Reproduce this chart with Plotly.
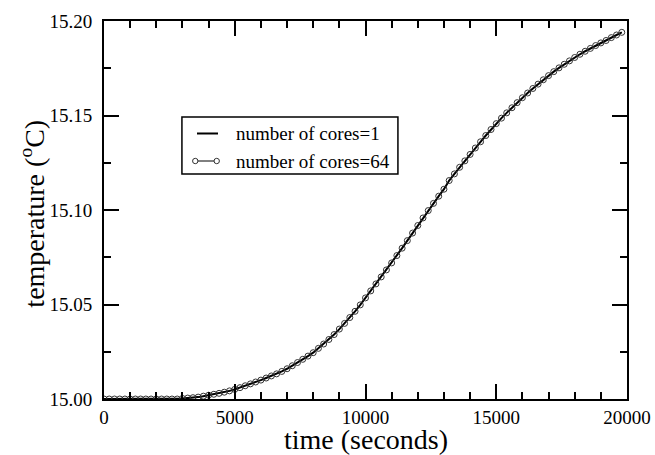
import plotly.graph_objects as go

# time in seconds (sampled every 200 s)
time_s = [200 * k for k in range(100)]

# temperature offsets above 15.00 °C, in thousandths of a degree
temp_offset_milli = [
    0, 0, 0, 0, 0, 0, 0, 0, 0, 0,
    0, 0, 0, 0, 0, 0.3, 0.5, 0.7, 1.0, 1.5,
    2.0, 2.5, 3.0, 3.6, 4.3, 5.1, 6.0, 7.0, 8.0, 9.0,
    10.0, 11.1, 12.2, 13.3, 14.6, 16.0, 17.6, 19.3, 21.0, 22.7,
    24.5, 26.8, 29.1, 31.5, 34.1, 37.0, 40.0, 43.1, 46.4, 49.8,
    53.5, 57.2, 60.9, 64.6, 68.3, 72.0, 75.9, 79.8, 83.8, 87.8,
    91.8, 95.8, 99.7, 103.5, 107.3, 111.0, 115.6, 119.1, 122.6, 126.0,
    129.4, 132.8, 136.1, 139.4, 142.6, 145.7, 148.6, 151.4, 154.1, 156.8,
    159.4, 161.9, 164.3, 166.6, 168.9, 171.1, 173.2, 175.2, 177.1, 178.9,
    180.7, 182.4, 184.0, 185.5, 187.0, 188.4, 189.7, 191.2, 192.6, 194.0,
]
temp_cores1 = [15.0 + v / 1000.0 for v in temp_offset_milli]
temp_cores64 = [15.0 + v / 1000.0 for v in temp_offset_milli]

x_ticks = [0, 5000, 10000, 15000, 20000]
x_tick_labels = ["0", "5000", "10000", "15000", "20000"]
y_ticks = [15.00, 15.05, 15.10, 15.15, 15.20]
y_tick_labels = ["15.00", "15.05", "15.10", "15.15", "15.20"]
series_names = ["number of cores=1", "number of cores=64"]

FONT = "Liberation Serif"

fig = go.Figure()
fig.add_trace(go.Scatter(
    x=time_s, y=temp_cores1, mode="lines", name=series_names[0],
    line=dict(color="black", width=2),
))
fig.add_trace(go.Scatter(
    x=time_s, y=temp_cores64, mode="lines+markers", name=series_names[1],
    line=dict(color="black", width=1),
    marker=dict(symbol="circle-open", size=6, color="#333333", line=dict(width=1)),
))

axis_common = dict(
    showline=True, linecolor="black", linewidth=2, mirror="allticks",
    ticks="inside", ticklen=15, tickwidth=2, tickcolor="black",
    showgrid=False, zeroline=False, automargin=False,
    tickfont=dict(family=FONT, size=19, color="black"),
)

fig.update_xaxes(
    range=[0, 20000], tickvals=x_ticks, ticktext=x_tick_labels,
    minor=dict(dtick=1000, ticklen=7, tickwidth=2, ticks="inside", tickcolor="black", showgrid=False),
    ticklabelstandoff=0,
    **axis_common,
)
fig.update_yaxes(
    range=[15.0, 15.2], tickvals=y_ticks, ticktext=y_tick_labels,
    minor=dict(dtick=0.025, tick0=15.0, ticklen=7, tickwidth=2, ticks="inside", tickcolor="black", showgrid=False),
    ticklabelstandoff=6,
    **axis_common,
)

fig.add_annotation(
    text="time (seconds)",
    xref="paper", yref="paper", x=0.5, y=-0.108, xanchor="center", yanchor="middle",
    showarrow=False, font=dict(family=FONT, size=28, color="black"),
)
fig.add_annotation(
    text="temperature (<sup>o</sup>C)", textangle=-90,
    xref="paper", yref="paper", x=-0.136, y=0.49, xanchor="center", yanchor="middle",
    showarrow=False, font=dict(family=FONT, size=28, color="black"),
)

# legend box drawn by hand (to match the reference's o—o symbol and compact box)
fig.add_shape(type="rect", xref="paper", yref="paper", x0=0.149, x1=0.562, y0=0.595, y1=0.746,
              line=dict(color="black", width=1.5), fillcolor="white", layer="above")
row_y = [0.7024, 0.6296]
fig.add_shape(type="line", xref="paper", yref="paper", x0=0.1778, x1=0.218, y0=row_y[0], y1=row_y[0],
              line=dict(color="black", width=2), layer="above")
fig.add_shape(type="line", xref="paper", yref="paper", x0=0.176, x1=0.214, y0=row_y[1], y1=row_y[1],
              line=dict(color="black", width=1), layer="above")
for cx in (0.1745, 0.2155):
    fig.add_shape(type="circle", xref="paper", yref="paper", xsizemode="pixel", ysizemode="pixel",
                  xanchor=cx, yanchor=row_y[1], x0=-2.7, x1=2.7, y0=-2.7, y1=2.7,
                  line=dict(color="#333333", width=1), fillcolor="white", layer="above")
for name, ry in zip(series_names, row_y):
    fig.add_annotation(text=name, xref="paper", yref="paper", x=0.2486, y=ry,
                       xanchor="left", yanchor="middle", showarrow=False,
                       font=dict(family=FONT, size=19, color="black"))

fig.update_layout(
    width=655, height=455,
    margin=dict(l=104, r=28, t=21, b=56),
    paper_bgcolor="white", plot_bgcolor="white",
    font=dict(family=FONT, color="black"),
    showlegend=False,
)

fig.write_html(
    "out.html",
    config={"displayModeBar": False},
    post_script="document.body.style.margin='0';document.body.style.padding='0';",
)
